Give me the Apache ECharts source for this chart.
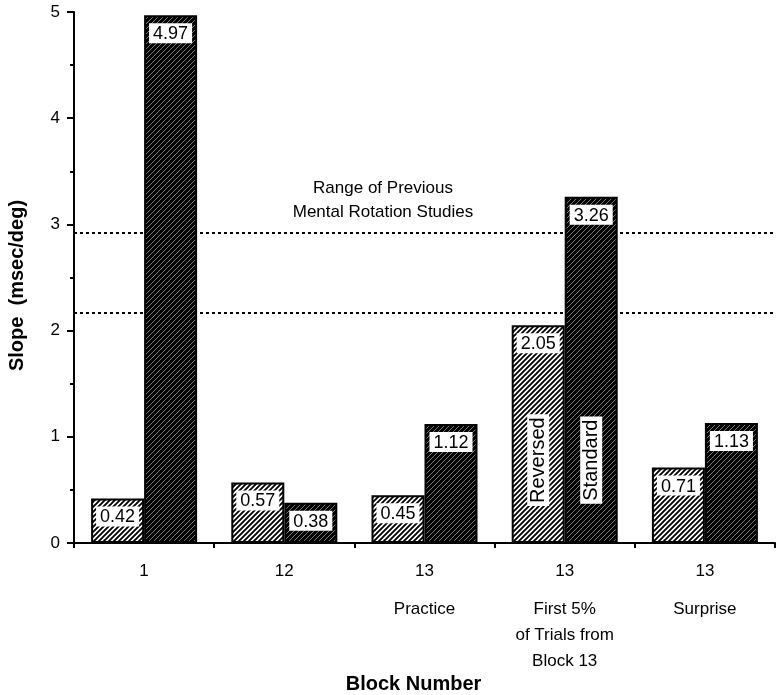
<!DOCTYPE html>
<html>
<head>
<meta charset="utf-8">
<script src="https://cdn.jsdelivr.net/npm/echarts@6/dist/echarts.min.js"></script>
<style>
  html, body { margin: 0; padding: 0; background: #fff; }
  #main { width: 776px; height: 695px; }
</style>
</head>
<body>
<div id="main"></div>
<script>
  // data
  var blocks = ['1', '12', '13\nPractice', '13\nFirst 5%\nof Trials from\nBlock 13', '13\nSurprise'];
  var reversed = [0.42, 0.57, 0.45, 2.05, 0.71];
  var standard = [4.97, 0.38, 1.12, 3.26, 1.13];
  var rangeLines = [2.92, 2.17];
  var yTicks = [0, 1, 2, 3, 4, 5];

  var FONT = 'Liberation Sans';
  var BAR_W = 53;

  // hatch fills
  function hatch(bg, fg, lw) {
    var c = document.createElement('canvas');
    var s = 5;
    c.width = s; c.height = s;
    var ctx = c.getContext('2d');
    ctx.fillStyle = bg;
    ctx.fillRect(0, 0, s, s);
    ctx.strokeStyle = fg;
    ctx.lineWidth = lw;
    ctx.beginPath();
    ctx.moveTo(-1, s + 1); ctx.lineTo(s + 1, -1);
    ctx.moveTo(-1, 1); ctx.lineTo(1, -1);
    ctx.moveTo(s - 1, s + 1); ctx.lineTo(s + 1, s - 1);
    ctx.stroke();
    return { image: c, repeat: 'repeat' };
  }

  var valueLabel = {
    show: true,
    position: 'insideTop',
    distance: 8,
    color: '#000',
    fontFamily: FONT,
    fontSize: 18,
    backgroundColor: '#fff',
    padding: [2, 4, 0, 4],
    formatter: function (p) { return p.value.toFixed(2); }
  };

  var myChart = echarts.init(document.getElementById('main'));

  myChart.setOption({
    animation: false,
    backgroundColor: '#fff',
    grid: { left: 74, right: 1, top: 12, bottom: 152, containLabel: false, outerBoundsMode: 'none' },
    xAxis: {
      type: 'category',
      data: blocks,
      name: 'Block Number',
      nameLocation: 'middle',
      nameGap: 129,
      nameTextStyle: { fontFamily: FONT, fontSize: 20, fontWeight: 'bold', color: '#000', padding: [0, 22, 0, 0] },
      axisLine: { lineStyle: { color: '#000', width: 2 } },
      axisTick: { show: true, length: 5, lineStyle: { color: '#000', width: 2 } },
      axisLabel: {
        interval: 0, margin: 3, verticalAlign: 'top',
        formatter: function (v) {
          var i = v.indexOf('\n');
          if (i < 0) return '{a|' + v + '}';
          return '{a|' + v.slice(0, i) + '}\n' + v.slice(i + 1).split('\n').map(function (s) { return '{b|' + s + '}'; }).join('\n');
        },
        rich: {
          a: { fontFamily: FONT, fontSize: 17, color: '#000', lineHeight: 50 },
          b: { fontFamily: FONT, fontSize: 17, color: '#000', lineHeight: 26 }
        }
      },
      splitLine: { show: false }
    },
    yAxis: {
      type: 'value',
      min: yTicks[0],
      max: yTicks[yTicks.length - 1],
      interval: 1,
      name: 'Slope  (msec/deg)',
      nameLocation: 'middle',
      nameGap: 47,
      nameTextStyle: { fontFamily: FONT, fontSize: 20, fontWeight: 'bold', color: '#000', padding: [0, 16, 0, 0] },
      axisLine: { show: true, lineStyle: { color: '#000', width: 2 } },
      axisTick: { show: true, length: 7, lineStyle: { color: '#000', width: 2 } },
      minorTick: { show: true, splitNumber: 2, length: 4, lineStyle: { color: '#000', width: 2 } },
      axisLabel: { margin: 14, fontFamily: FONT, fontSize: 17, color: '#000' },
      splitLine: { show: false }
    },
    series: [
      {
        name: 'Reversed',
        type: 'bar',
        data: reversed,
        barWidth: BAR_W,
        barGap: '0%',
        itemStyle: { color: hatch('#fff', '#000', 1.9), borderColor: '#000', borderWidth: 2 },
        label: valueLabel,
        markLine: {
          silent: true,
          symbol: 'none',
          z: 1,
          label: { show: false },
          lineStyle: { color: '#000', type: [3, 3], width: 2 },
          data: rangeLines.map(function (v) { return { yAxis: v }; })
        }
      },
      {
        name: 'Standard',
        type: 'bar',
        data: standard,
        barWidth: BAR_W,
        barGap: '0%',
        itemStyle: { color: hatch('#000', '#9a9a9a', 0.8), borderColor: '#000', borderWidth: 2 },
        label: valueLabel
      }
    ]
  });

  // rotated series names inside the "First 5%" group
  var c = myChart.convertToPixel({ gridIndex: 0 }, [3, 0.78]);
  var nameStyle = {
    fontFamily: FONT, fontSize: 20, fill: '#000',
    backgroundColor: '#fff', padding: [2, 3, 0, 3],
    align: 'center', verticalAlign: 'middle'
  };
  myChart.setOption({
    graphic: [
      {
        type: 'text', x: 383, y: 176, z: 10,
        style: {
          text: 'Range of Previous\nMental Rotation Studies',
          fontFamily: FONT, fontSize: 17, fill: '#000',
          lineHeight: 24, align: 'center', verticalAlign: 'top'
        }
      },
      {
        type: 'text', x: c[0] - BAR_W / 2, y: c[1], rotation: Math.PI / 2, z: 10,
        style: Object.assign({ text: 'Reversed' }, nameStyle)
      },
      {
        type: 'text', x: c[0] + BAR_W / 2, y: c[1], rotation: Math.PI / 2, z: 10,
        style: Object.assign({ text: 'Standard' }, nameStyle)
      }
    ]
  });
  window.onresize = myChart.resize;
</script>
</body>
</html>
